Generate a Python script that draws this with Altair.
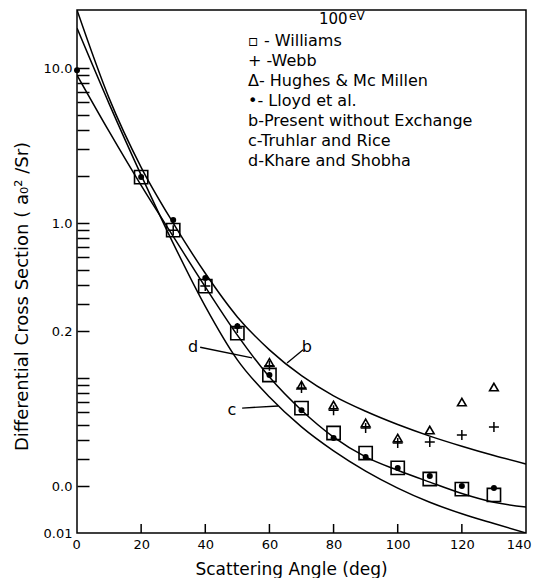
import altair as alt
import pandas as pd

FONT = "DejaVu Sans"

# ---- data ----
angles_williams = [20, 30, 40, 50, 60, 70, 80, 90, 100, 110, 120, 130]
williams = [1.98, 0.90, 0.392, 0.195, 0.1046, 0.064, 0.0442, 0.0328, 0.0263, 0.0223, 0.0192, 0.0176]

angles_lloyd = [0, 20, 30, 40, 50, 60, 70, 80, 90, 100, 110, 120, 130]
lloyd = [9.7, 1.98, 1.045, 0.442, 0.216, 0.1046, 0.062, 0.041, 0.0309, 0.0263, 0.0233, 0.0201, 0.0195]

angles_webb = [30, 40, 50, 60, 70, 80, 90, 100, 110, 120, 130]
webb = [0.90, 0.392, 0.21, 0.12, 0.0862, 0.062, 0.0476, 0.0381, 0.0386, 0.0429, 0.0483]

angles_hughes = [60, 70, 80, 90, 100, 110, 120, 130]
hughes = [0.126, 0.090, 0.067, 0.0513, 0.041, 0.0462, 0.070, 0.0875]

curve_angles = [0, 10, 20, 30, 40, 50, 60, 70, 80, 90, 100, 110, 120, 130, 140]
curve_b = [23.7, 6.4, 2.29, 1.0, 0.474, 0.248, 0.152, 0.1035, 0.0767, 0.061, 0.0501, 0.0422, 0.0363, 0.0316, 0.0279]
curve_c = [18.1, 5.9, 2.04, 0.74, 0.29, 0.131, 0.0754, 0.0484, 0.0339, 0.0251, 0.0195, 0.0158, 0.0133, 0.0115, 0.0100]
curve_d = [9.0, 3.9, 1.75, 0.82, 0.387, 0.189, 0.1015, 0.062, 0.0416, 0.031, 0.0254, 0.0213, 0.018, 0.0158, 0.0147]

x_label_values = [0, 20, 40, 60, 80, 100, 120, 140]
x_tick_values = [20, 40, 60, 80, 100, 120]
y_label_values = [10, 1, 0.2, 0.02, 0.01]
y_tick_values = [10, 9, 8, 7, 6, 5, 4, 3, 2, 1, 0.9, 0.8, 0.7, 0.6, 0.5, 0.4, 0.3, 0.2,
                 0.1, 0.09, 0.08, 0.07, 0.06, 0.05, 0.04, 0.03, 0.02]

legend_lines = [
    "\u25ab - Williams",
    "+ -Webb",
    "\u0394- Hughes & Mc Millen",
    "\u2022- Lloyd et al.",
    "b-Present without Exchange",
    "c-Truhlar and Rice",
    "d-Khare and Shobha",
]

curve_labels = ["b", "c", "d"]
curve_label_angle = [71.7, 48.3, 36.2]
curve_label_value = [0.158, 0.0622, 0.158]

leader_curve = ["b", "b", "c", "c", "d", "d"]
leader_angle = [70.5, 65.5, 51.5, 62.7, 38.4, 54.6]
leader_value = [0.152, 0.125, 0.064, 0.066, 0.158, 0.135]

# ---- tables ----
curves = pd.DataFrame({
    "angle": curve_angles * 3,
    "value": curve_b + curve_c + curve_d,
    "curve": ["b"] * len(curve_angles) + ["c"] * len(curve_angles) + ["d"] * len(curve_angles),
})
df_w = pd.DataFrame({"angle": angles_williams, "value": williams})
df_l = pd.DataFrame({"angle": angles_lloyd, "value": lloyd})
df_webb = pd.DataFrame({"angle": angles_webb, "value": webb})
df_h = pd.DataFrame({"angle": angles_hughes, "value": hughes})
df_lab = pd.DataFrame({"angle": curve_label_angle, "value": curve_label_value, "label": curve_labels})
df_lead = pd.DataFrame({"angle": leader_angle, "value": leader_value, "curve": leader_curve})
df_xt = pd.DataFrame({"angle": x_tick_values})

xs = alt.Scale(domain=[0, 140], nice=False, zero=False)
ys = alt.Scale(type="log", domain=[0.01, 23.7], nice=False)

W, H = 449, 523

label_x_axis = alt.Axis(values=x_label_values, tickSize=0, domain=False, grid=False,
                        labelFlush=True, labelFlushOffset=5,
                        labelPadding=5, labelFontSize=13, labelFont=FONT, labelColor="black",
                        title="Scattering Angle (deg)", titleFont=FONT, titleFontSize=17,
                        titleFontWeight="normal", titleColor="black",
                        titleX=214, titleY=41, titleBaseline="alphabetic")
label_y_axis = alt.Axis(values=y_label_values, tickSize=0, domain=False, grid=False, labelFlush=False,
                        labelPadding=5, labelFontSize=13, labelFont=FONT, labelColor="black",
                        labelExpr="datum.value > 5 ? '10.0' : datum.value > 0.5 ? '1.0' : datum.value > 0.1 ? '0.2' : datum.value > 0.015 ? '0.0' : '0.01'",
                        title="Differential Cross Section ( a\u2080\u00b2 /Sr)", titleFont=FONT,
                        titleFontSize=18, titleFontWeight="normal", titleColor="black",
                        titleX=-55, titleY=286, titleBaseline="middle", titleAngle=-90)
tick_y_axis = alt.Axis(orient="right", offset=-W, values=y_tick_values, tickSize=12, tickWidth=1.5,
                       tickColor="black", labels=False, domain=False, grid=False, title=None)

lines = alt.Chart(curves).mark_line(color="black", strokeWidth=1.5, interpolate="monotone", clip=True).encode(
    x=alt.X("angle:Q", scale=xs, axis=label_x_axis),
    y=alt.Y("value:Q", scale=ys, axis=label_y_axis),
    detail="curve:N",
)

squares = alt.Chart(df_w).mark_point(shape="square", filled=False, size=175, strokeWidth=1.6,
                                     color="black", opacity=1).encode(
    x=alt.X("angle:Q", scale=xs, axis=None),
    y=alt.Y("value:Q", scale=ys, axis=tick_y_axis),
)

xticks = alt.Chart(df_xt).mark_rule(color="black", strokeWidth=1.5).encode(
    x=alt.X("angle:Q", scale=xs, axis=None),
    y=alt.value(H),
    y2=alt.value(H - 9),
)

tris = alt.Chart(df_h).mark_point(shape="triangle-up", filled=False, size=75, strokeWidth=1.6,
                                  color="black", opacity=1).encode(
    x=alt.X("angle:Q", scale=xs, axis=None),
    y=alt.Y("value:Q", scale=ys, axis=None),
)

crosses = alt.Chart(df_webb).mark_point(shape="M-1,0L1,0M0,-1L0,1", filled=False, size=100,
                                        strokeWidth=1.5, color="black", opacity=1).encode(
    x=alt.X("angle:Q", scale=xs, axis=None),
    y=alt.Y("value:Q", scale=ys, axis=None),
)

dots = alt.Chart(df_l).mark_point(shape="circle", filled=True, size=36, color="black", opacity=1).encode(
    x=alt.X("angle:Q", scale=xs, axis=None),
    y=alt.Y("value:Q", scale=ys, axis=None),
)

leaders = alt.Chart(df_lead).mark_line(color="black", strokeWidth=1.3).encode(
    x=alt.X("angle:Q", scale=xs, axis=None),
    y=alt.Y("value:Q", scale=ys, axis=None),
    detail="curve:N",
)

curve_text = alt.Chart(df_lab).mark_text(font=FONT, fontSize=16, color="black").encode(
    x=alt.X("angle:Q", scale=xs, axis=None),
    y=alt.Y("value:Q", scale=ys, axis=None),
    text="label:N",
)

legend = alt.Chart(pd.DataFrame({"t": ["\n".join(legend_lines)]})).mark_text(
    font=FONT, fontSize=16, align="left", baseline="top", lineBreak="\n", lineHeight=20, color="black"
).encode(x=alt.value(171), y=alt.value(23), text="t:N")

energy = alt.Chart(pd.DataFrame({"t": ["100"]})).mark_text(
    font=FONT, fontSize=15, align="left", baseline="middle", color="black"
).encode(x=alt.value(242), y=alt.value(9), text="t:N")
energy_unit = alt.Chart(pd.DataFrame({"t": ["eV"]})).mark_text(
    font=FONT, fontSize=12, align="left", baseline="middle", color="black"
).encode(x=alt.value(272), y=alt.value(6), text="t:N")

chart = alt.layer(
    lines, squares, xticks, tris, crosses, dots, leaders, curve_text, legend, energy, energy_unit
).resolve_axis(x="independent", y="independent").properties(
    width=W, height=H,
    autosize=alt.AutoSizeParams(type="none"),
    padding={"left": 69, "top": 2, "right": 6, "bottom": 45},
    background="white",
).configure_view(stroke="black", strokeWidth=1.5)

chart.save("out.html", embed_options={"renderer": "svg", "actions": False})
